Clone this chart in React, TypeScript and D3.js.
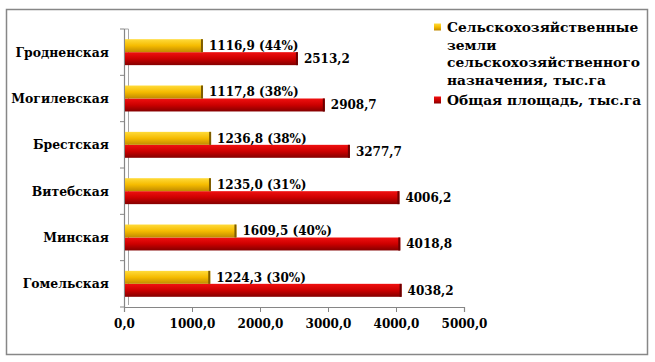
import React, { useEffect, useRef } from "react";
import { select, scaleLinear, scaleBand, axisBottom } from "d3";

const regions = [
  "Гродненская",
  "Могилевская",
  "Брестская",
  "Витебская",
  "Минская",
  "Гомельская",
];
const farmland = [1116.9, 1117.8, 1236.8, 1235.0, 1609.5, 1224.3];
const totalArea = [2513.2, 2908.7, 3277.7, 4006.2, 4018.8, 4038.2];
const xTicks = [0, 1000, 2000, 3000, 4000, 5000];
const seriesKeys = ["farm", "total"];
const legendFarm = [
  "Сельскохозяйственные",
  "земли",
  "сельскохозяйственного",
  "назначения, тыс.га",
];
const legendTotal = "Общая площадь, тыс.га";

const W = 655;
const H = 362;
const FONT = "'DejaVu Serif', serif";

const fmt = (v: number) => v.toFixed(1).replace(".", ",");

const App = () => {
  const svgRef = useRef(null);

  useEffect(() => {
    const svg = select(svgRef.current);
    svg.selectAll("*").remove();

    // gradients for the 3D-ish bars
    const defs = svg.append("defs");
    const grads = [
      { id: "gFarm", stops: ["#ffdb3a", "#f5bb00", "#c08a00"] },
      { id: "gTotal", stops: ["#f01010", "#cc0000", "#840000"] },
    ];
    grads.forEach((g) => {
      const lg = defs
        .append("linearGradient")
        .attr("id", g.id)
        .attr("x1", 0)
        .attr("y1", 0)
        .attr("x2", 0)
        .attr("y2", 1);
      g.stops.forEach((c, i) => {
        lg.append("stop")
          .attr("offset", `${(i / (g.stops.length - 1)) * 100}%`)
          .attr("stop-color", c);
      });
    });

    // outer frame
    svg
      .append("rect")
      .attr("x", 6.5)
      .attr("y", 9.5)
      .attr("width", 641)
      .attr("height", 345)
      .attr("fill", "#fff")
      .attr("stroke", "#878787")
      .attr("stroke-width", 1.5);

    const x = scaleLinear().domain([0, 5000]).range([124, 464]);
    const depth = 3;
    const xBar = x.copy().range([124 + depth, 464 + depth]);

    const y = scaleBand()
      .domain(regions)
      .range([29, 307])
      .paddingInner(0.44)
      .paddingOuter(0.22);
    const inner = scaleBand()
      .domain(seriesKeys)
      .range([0, y.bandwidth()]);

    // left axis with 3D wall edge
    const top = y.range()[0];
    const bottom = y.range()[1];
    svg
      .append("line")
      .attr("x1", x(0) + 4.5)
      .attr("x2", x(0) + 4.5)
      .attr("y1", top)
      .attr("y2", bottom - 2)
      .attr("stroke", "#a6a6a6");
    svg
      .append("line")
      .attr("x1", x(0))
      .attr("x2", x(0) + 4.5)
      .attr("y1", top)
      .attr("y2", top)
      .attr("stroke", "#a6a6a6");
    svg
      .append("line")
      .attr("x1", x(0) + 0.5)
      .attr("x2", x(0) + 0.5)
      .attr("y1", top)
      .attr("y2", bottom)
      .attr("stroke", "#868686")
      .attr("stroke-width", 1.2);
    regions.concat([""]).forEach((_, i) => {
      const yy = top + i * y.step();
      svg
        .append("line")
        .attr("x1", x(0) - 4)
        .attr("x2", x(0))
        .attr("y1", yy)
        .attr("y2", yy)
        .attr("stroke", "#868686");
    });

    // bottom axis
    const gx = svg
      .append("g")
      .attr("transform", `translate(0,${bottom})`)
      .call(
        axisBottom(x)
          .tickValues(xTicks)
          .tickSize(5)
          .tickPadding(7)
          .tickFormat((d: any) => fmt(+d))
      );
    gx.select(".domain").attr("stroke", "#868686").attr("stroke-width", 1.2);
    gx.selectAll(".tick line").attr("stroke", "#868686");
    gx.selectAll(".tick text")
      .attr("font-family", FONT)
      .attr("font-weight", "bold")
      .attr("font-size", 12)
      .attr("fill", "#000");

    // category labels
    svg
      .append("g")
      .selectAll("text")
      .data(regions)
      .enter()
      .append("text")
      .attr("x", 109)
      .attr("y", (d: string) => (y(d) as number) + y.bandwidth() / 2)
      .attr("dy", "0.35em")
      .attr("text-anchor", "end")
      .attr("font-family", FONT)
      .attr("font-weight", "bold")
      .attr("font-size", 12.4)
      .text((d: string) => d);

    const rows = regions.map((r, i) => ({
      region: r,
      farm: farmland[i],
      total: totalArea[i],
    }));

    const drawSeries = (
      key: string,
      fill: string,
      cap: string,
      label: (d: any) => string
    ) => {
      const g = svg.append("g");
      const yOf = (d: any) => (y(d.region) as number) + (inner(key) as number);
      g.selectAll("rect.bar")
        .data(rows)
        .enter()
        .append("rect")
        .attr("class", "bar")
        .attr("x", x(0) + 1)
        .attr("y", yOf)
        .attr("width", (d: any) => xBar(d[key]) - x(0) - 1)
        .attr("height", inner.bandwidth())
        .attr("fill", `url(#${fill})`);
      g.selectAll("rect.cap")
        .data(rows)
        .enter()
        .append("rect")
        .attr("class", "cap")
        .attr("x", (d: any) => xBar(d[key]) - 2)
        .attr("y", yOf)
        .attr("width", 2)
        .attr("height", inner.bandwidth())
        .attr("fill", cap);
      g.selectAll("text")
        .data(rows)
        .enter()
        .append("text")
        .attr("x", (d: any) => xBar(d[key]) + 6)
        .attr("y", (d: any) => yOf(d) + inner.bandwidth() / 2)
        .attr("dy", "0.35em")
        .attr("font-family", FONT)
        .attr("font-weight", "bold")
        .attr("font-size", 12)
        .attr("fill", "#000")
        .text(label);
    };

    drawSeries("total", "gTotal", "#6a0000", (d: any) => fmt(d.total));
    drawSeries(
      "farm",
      "gFarm",
      "#7d5c00",
      (d: any) =>
        `${fmt(d.farm)} (${Math.round((d.farm / d.total) * 100)}%)`
    );

    // legend
    const lg = svg.append("g").attr("transform", "translate(434,0)");
    const lineH = 17.7;
    lg.append("rect")
      .attr("x", 0)
      .attr("y", 23.5)
      .attr("width", 7)
      .attr("height", 7)
      .attr("fill", "url(#gFarm)");
    lg.selectAll("text.farm")
      .data(legendFarm)
      .enter()
      .append("text")
      .attr("class", "farm")
      .attr("x", 13)
      .attr("y", (_: any, i: number) => 27 + i * lineH)
      .attr("dy", "0.35em")
      .attr("font-family", FONT)
      .attr("font-weight", "bold")
      .attr("font-size", 13.8)
      .text((d: string) => d);
    lg.append("rect")
      .attr("x", 0)
      .attr("y", 96.5)
      .attr("width", 7)
      .attr("height", 7)
      .attr("fill", "url(#gTotal)");
    lg.append("text")
      .attr("x", 13)
      .attr("y", 100)
      .attr("dy", "0.35em")
      .attr("font-family", FONT)
      .attr("font-weight", "bold")
      .attr("font-size", 13.8)
      .text(legendTotal);
  }, []);

  return (
    <svg
      ref={svgRef}
      width={W}
      height={H}
      style={{ position: "absolute", left: 0, top: 0, background: "#fff" }}
    ></svg>
  );
};

export default App;
